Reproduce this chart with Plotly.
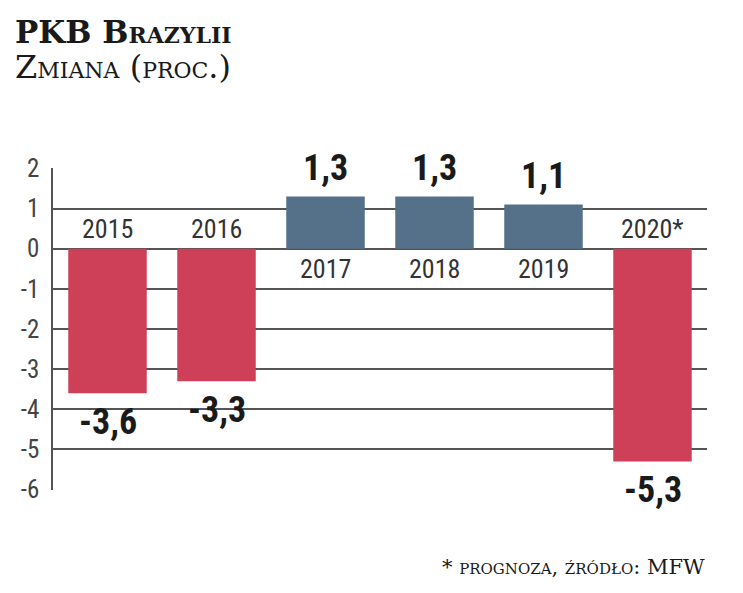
import plotly.graph_objects as go

# PKB Brazylii, zmiana r/r (proc.)
years = ["2015", "2016", "2017", "2018", "2019", "2020*"]
growth = [-3.6, -3.3, 1.3, 1.3, 1.1, -5.3]
value_labels = ["-3,6", "-3,3", "1,3", "1,3", "1,1", "-5,3"]
y_ticks = [2, 1, 0, -1, -2, -3, -4, -5, -6]

RED = "#cd4058"
BLUE = "#557089"
NUM_FONT = "Roboto Condensed, sans-serif"
SERIF = "DejaVu Serif, serif"

colors = [BLUE if v > 0 else RED for v in growth]
pos = list(range(len(years)))

fig = go.Figure()
fig.add_trace(go.Bar(x=pos, y=growth, marker=dict(color=colors, line=dict(width=0)),
                     width=0.72, hoverinfo="skip"))

# podpisy wartosci i lat
for i, yr, v, lab in zip(pos, years, growth, value_labels):
    fig.add_annotation(x=i, y=v, text=lab, showarrow=False,
                       yanchor="bottom" if v > 0 else "top",
                       yshift=6 if v > 0 else -6,
                       font=dict(family=NUM_FONT, size=36, color="#1a1a1a", weight="bold"))
    fig.add_annotation(x=i, y=0, text=yr, showarrow=False,
                       yanchor="top" if v > 0 else "bottom",
                       yshift=-3 if v > 0 else 3,
                       font=dict(family=NUM_FONT, size=26, color="#333333"))

# tytul (kapitaliki)
fig.add_annotation(xref="paper", yref="paper", x=-0.061, y=1.485, xanchor="left", yanchor="top",
                   text="<b>PKB Brazylii</b>",
                   showarrow=False, font=dict(family=SERIF, size=31, color="#1a1a1a", variant="small-caps"))
fig.add_annotation(xref="paper", yref="paper", x=-0.061, y=1.378, xanchor="left", yanchor="top",
                   text="Zmiana (proc.)",
                   showarrow=False, font=dict(family=SERIF, size=32, color="#1a1a1a", variant="small-caps"))
fig.add_annotation(xref="paper", yref="paper", x=1.0, y=-0.195, xanchor="right", yanchor="top",
                   text="* prognoza, źródło: MFW",
                   showarrow=False, font=dict(family=SERIF, size=21, color="#1a1a1a", variant="small-caps"))

fig.update_layout(
    width=735, height=585,
    margin=dict(l=45, r=36, t=160, b=103),
    paper_bgcolor="white", plot_bgcolor="white",
    showlegend=False,
    xaxis=dict(showticklabels=False, showgrid=False, zeroline=False, range=[-0.5, 5.5]),
    yaxis=dict(range=[-6.01, 2.01], tickvals=y_ticks, ticktext=[str(t) for t in y_ticks],
               showgrid=True, gridcolor="#555555", gridwidth=1.5,
               zeroline=True, zerolinecolor="#555555", zerolinewidth=1.5,
               showline=True, linecolor="#555555", linewidth=1.5,
               ticks="", ticklabelstandoff=7, automargin=False,
               tickfont=dict(family=NUM_FONT, size=25, color="#444444")),
)

fig.write_html("out.html")
